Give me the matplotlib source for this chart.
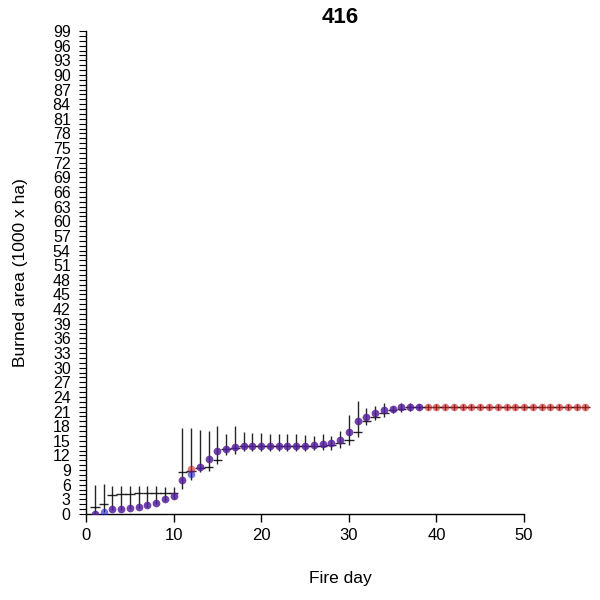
import matplotlib
matplotlib.use("Agg")
import matplotlib.pyplot as plt
import numpy as np

plt.rcParams['font.family'] = ['Liberation Sans', 'DejaVu Sans']

title = "416"
days = np.arange(1, 58)

# model ensemble: median (cross bar) and range (vertical line) per fire day
cross_mid = [1.4, 2.0, 3.8, 4.1, 4.2, 4.3, 4.3, 4.3, 4.4, 4.4,
             8.7, 8.9, 9.5, 9.7, 11.1, 13.3, 13.5, 13.9, 13.9, 13.9,
             13.9, 13.9, 13.9, 13.9, 13.9, 13.9, 14.0, 14.1, 14.5, 15.2,
             16.9, 19.1, 19.9, 20.6, 21.3, 21.6, 21.9, 22.0] + [22.0] * 19
cross_lo = [0.1, 0.5, 0.8, 0.8, 1.0, 1.2, 1.5, 2.0, 2.6, 3.0,
            5.1, 7.0, 8.6, 8.8, 10.2, 12.1, 12.4, 13.0, 13.0, 13.0,
            13.0, 13.0, 13.0, 13.0, 13.0, 13.1, 13.1, 13.2, 13.6, 14.1,
            15.8, 18.2, 19.3, 19.8, 20.7, 21.0, 21.1, 21.3] + [21.4] * 19
cross_hi = [5.9, 6.1, 5.7, 5.8, 5.8, 5.7, 5.7, 5.7, 5.6, 5.6,
            17.6, 17.6, 17.2, 17.1, 18.0, 16.3, 18.0, 16.9, 16.7, 16.6,
            16.5, 16.4, 16.4, 16.3, 16.2, 16.0, 16.4, 16.0, 17.0, 20.3,
            23.2, 21.8, 22.1, 22.7, 22.1, 22.7, 22.7, 22.6] + [22.6] * 19

# observed burned area (red) and simulated (blue)
observed = [0.1, np.nan, 1.0, 1.1, 1.2, 1.4, 1.8, 2.2, 3.1, 3.7,
            7.0, 9.2, 9.6, 11.2, 13.0, 13.4, 13.8, 13.9, 13.9, 13.9,
            13.9, 13.9, 13.9, 13.9, 13.9, 14.1, 14.3, 14.6, 15.2, 16.9,
            19.1, 19.9, 20.6, 21.3, 21.5, 21.9, 22.0, 22.0] + [22.0] * 19
simulated = [0.1, 0.5, 1.0, 1.1, 1.2, 1.4, 1.8, 2.2, 3.1, 3.7,
             7.0, 8.3, 9.6, 11.2, 13.0, 13.4, 13.8, 13.9, 13.9, 13.9,
             13.9, 13.9, 13.9, 13.9, 13.9, 14.1, 14.3, 14.6, 15.2, 16.9,
             19.1, 19.9, 20.6, 21.3, 21.5, 21.9, 22.0, 22.0]

fig = plt.figure(figsize=(6, 6), dpi=100)
ax = fig.add_axes([86 / 600, 86 / 600, 509 / 600, 483 / 600])

half = 0.55
ax.vlines(days, cross_lo, cross_hi, color='black', lw=1.0, alpha=0.85)
ax.hlines(cross_mid, days - half, days + half, color='black', lw=1.0, alpha=0.85)

ax.scatter(days, observed, s=30, color='#d62020', alpha=0.6, lw=0, zorder=3)
ax.scatter(days[:len(simulated)], simulated, s=30, color='#2020d0', alpha=0.6,
           lw=0, zorder=4)

ax.set_xlim(0, 58.1)
ax.set_ylim(0, 99)
for side in ['top', 'right']:
    ax.spines[side].set_visible(False)
ax.spines['bottom'].set_bounds(0, 50)
ax.spines['left'].set_bounds(0, 99)
for side in ['left', 'bottom']:
    ax.spines[side].set_linewidth(1.0)

ax.set_xticks(np.arange(0, 51, 10))
yt = np.arange(0, 100)
ax.set_yticks(yt)
ax.set_yticklabels([str(v) if v % 3 == 0 else '' for v in yt])
ax.tick_params(axis='y', length=5, width=0.8, labelsize=11.5, pad=6)
ax.tick_params(axis='x', length=6, width=1.0, labelsize=12, pad=4)

ax.set_xlabel("Fire day", fontsize=12.5, labelpad=20)
ax.set_ylabel("Burned area (1000 x ha)", fontsize=12.5, labelpad=18)
ax.set_title(title, fontsize=16, fontweight='bold', pad=6)

fig.savefig("out.png", dpi=100)
